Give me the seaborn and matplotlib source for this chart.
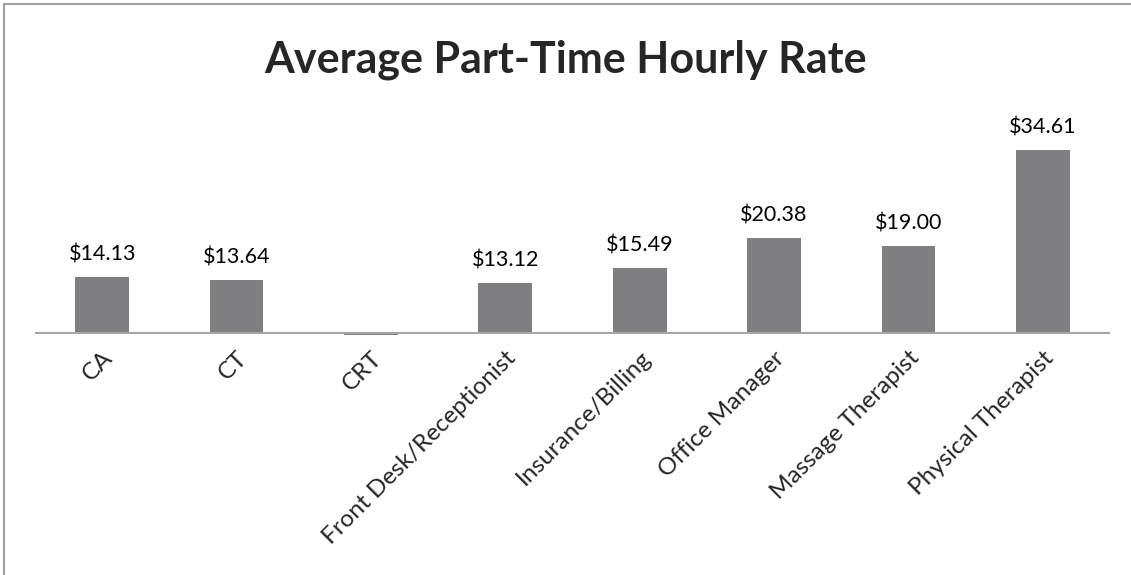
import matplotlib.pyplot as plt
import seaborn as sns
import pandas as pd

categories = ["CA", "CT", "CRT", "Front Desk/Receptionist", "Insurance/Billing",
              "Office Manager", "Massage Therapist", "Physical Therapist"]
rates = [14.13, 13.64, 0.0, 13.12, 15.49, 20.38, 19.00, 34.61]
labels = ["$14.13", "$13.64", "", "$13.12", "$15.49", "$20.38", "$19.00", "$34.61"]
axis_min = 5  # value axis crosses at $5

df = pd.DataFrame({"role": categories, "rate": rates})

sns.set_style("white")
plt.rcParams["font.family"] = ["Lato", "DejaVu Sans"]

W, H = 1131, 575
fig = plt.figure(figsize=(W / 100, H / 100), dpi=100)
# axes: x from 35 to 1110 px, axis line at 333 px
ppu = 183 / (34.61 - axis_min)
ymin, ymax = axis_min - 0.3, 40
top_px = 333 - (ymax - axis_min) * ppu
bot_px = 333 - (ymin - axis_min) * ppu
ax = fig.add_axes([35 / W, 1 - bot_px / H, (1110 - 35) / W, (bot_px - top_px) / H])

sns.barplot(data=df, x="role", y="rate", color="#7f7f82", saturation=1,
            width=0.4, ax=ax)
# bars grow from the axis crossing value, like the original Excel chart
for p, v in zip(ax.patches, rates):
    p.set_y(axis_min)
    p.set_height(v - axis_min)
    p.set_edgecolor("none")
ax.set_ylim(ymin, ymax)
ax.set_xlim(-0.5, len(categories) - 0.5)

for i, (v, t) in enumerate(zip(rates, labels)):
    if t:
        ax.annotate(t, (i, v), xytext=(0, 9), textcoords="offset points",
                    ha="center", va="bottom", fontsize=15.5, color="#000000")

for s in ["top", "right", "left", "bottom"]:
    ax.spines[s].set_visible(False)
ax.axhline(axis_min, color="#a6a6a6", lw=1.5, zorder=3)
ax.set_yticks([])
ax.set_xlabel("")
ax.set_ylabel("")
ax.tick_params(axis="x", length=0, pad=9)
ax.set_xticks(range(len(categories)))
ax.set_xticklabels(categories, rotation=45, ha="right", rotation_mode="anchor",
                   fontsize=17.5)

fig.text(0.5, 1 - 60 / H, "Average Part-Time Hourly Rate", ha="center", va="center",
         fontsize=31, fontweight="bold")

# chart border (top and left visible)
fig.add_artist(plt.Line2D([4 / W, 4 / W], [0, 1 - 4 / H], transform=fig.transFigure,
                          color="#a0a0a0", lw=1.5))
fig.add_artist(plt.Line2D([4 / W, 1], [1 - 4 / H, 1 - 4 / H], transform=fig.transFigure,
                          color="#a0a0a0", lw=1.5))

fig.savefig("out.png", dpi=100)
